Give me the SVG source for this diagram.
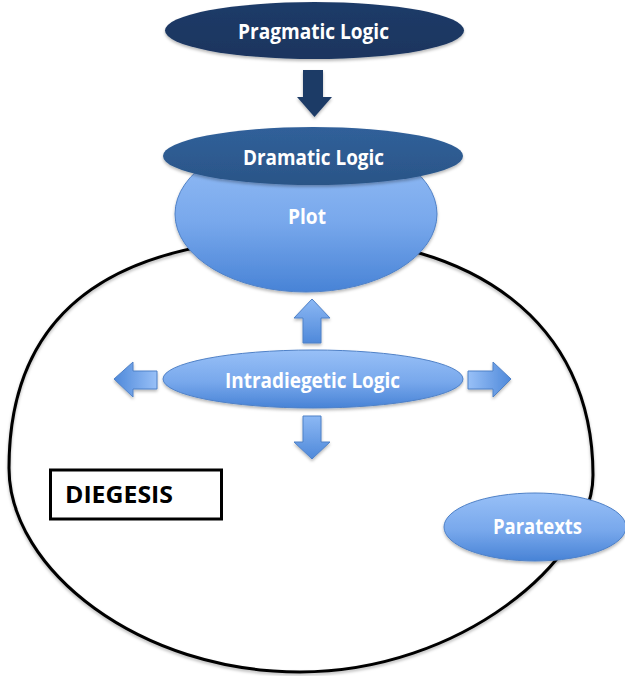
<svg xmlns="http://www.w3.org/2000/svg" width="625" height="676" viewBox="0 0 625 676">
  <defs>
    <linearGradient id="gNavy" x1="0" y1="0" x2="0" y2="1">
      <stop offset="0" stop-color="#1e3b68"/>
      <stop offset="1" stop-color="#1a355f"/>
    </linearGradient>
    <linearGradient id="gSteel" x1="0" y1="0" x2="0" y2="1">
      <stop offset="0" stop-color="#30609a"/>
      <stop offset="1" stop-color="#2b5587"/>
    </linearGradient>
    <linearGradient id="gLight" x1="0" y1="0" x2="0" y2="1">
      <stop offset="0" stop-color="#98c0f7"/>
      <stop offset="0.55" stop-color="#78a8ec"/>
      <stop offset="1" stop-color="#4883d6"/>
    </linearGradient>
    <linearGradient id="gArrowV" x1="0" y1="0" x2="0" y2="1">
      <stop offset="0" stop-color="#8cb8f4"/>
      <stop offset="1" stop-color="#4f89da"/>
    </linearGradient>
    <linearGradient id="gArrowR" x1="0" y1="0" x2="1" y2="0">
      <stop offset="0" stop-color="#98c0f7"/>
      <stop offset="1" stop-color="#4f89da"/>
    </linearGradient>
    <linearGradient id="gArrowL" x1="1" y1="0" x2="0" y2="0">
      <stop offset="0" stop-color="#98c0f7"/>
      <stop offset="1" stop-color="#4f89da"/>
    </linearGradient>
    <filter id="shadow" x="-10%" y="-10%" width="120%" height="130%">
      <feDropShadow dx="0" dy="2" stdDeviation="1.8" flood-color="#000" flood-opacity="0.28"/>
    </filter>
  </defs>
  <style>
    text { font-variant-ligatures: none; }
    .lbl { font-family: "Open Sans", Lato, "Liberation Sans", sans-serif; font-weight: 700; font-size: 21px; fill: #ffffff; text-anchor: middle; }
    .light { fill: url(#gLight); stroke: #4f81c7; stroke-width: 1; filter: url(#shadow); }
    .arrow { stroke: #4f81c7; stroke-width: 1; filter: url(#shadow); }
  </style>

  <rect width="625" height="676" fill="#ffffff"/>

  <!-- diegesis boundary -->
  <g id="diegesis-boundary">
    <path d="M9,468 C9,298 130,238 306,238 C470,238 593,320 593,475 C593,560 460,672 300,672 C140,672 9,570 9,468 Z"
          fill="none" stroke="#000" stroke-width="3" filter="url(#shadow)"/>
  </g>

  <!-- plot (sits under the dramatic logic cap) -->
  <g id="plot">
    <ellipse class="light" cx="306" cy="214" rx="131" ry="78"/>
    <text class="lbl" x="307" y="224" textLength="38" lengthAdjust="spacingAndGlyphs">Plot</text>
  </g>

  <g id="dramatic-logic">
    <ellipse cx="313" cy="156" rx="150" ry="29" fill="url(#gSteel)" filter="url(#shadow)"/>
    <text class="lbl" x="313.5" y="165" textLength="141" lengthAdjust="spacingAndGlyphs">Dramatic Logic</text>
  </g>

  <g id="pragmatic-logic">
    <ellipse cx="314.5" cy="30.5" rx="149.5" ry="28.5" fill="url(#gNavy)" filter="url(#shadow)"/>
    <text class="lbl" x="313.5" y="38.5" textLength="151" lengthAdjust="spacingAndGlyphs">Pragmatic Logic</text>
  </g>

  <!-- connectors: block arrows -->
  <g id="connectors">
    <path d="M303,70 H323 V97 H332 L314.5,117 L297,97 H303 Z" fill="#1d3a66" filter="url(#shadow)"/>
    <path class="arrow" d="M312,299 L330,318 H321 V343 H303 V318 H294 Z" fill="url(#gArrowV)"/>
    <path class="arrow" d="M303,416 H321 V442 H330 L312,459 L294,442 H303 Z" fill="url(#gArrowV)"/>
    <path class="arrow" d="M114,379 L133,362 V371 H157 V389 H133 V397 Z" fill="url(#gArrowL)"/>
    <path class="arrow" d="M468,371 H493 V362 L511,379 L493,397 V389 H468 Z" fill="url(#gArrowR)"/>
  </g>

  <g id="intradiegetic-logic">
    <ellipse class="light" cx="313" cy="379" rx="150" ry="29"/>
    <text class="lbl" x="312.5" y="388" textLength="175" lengthAdjust="spacingAndGlyphs">Intradiegetic Logic</text>
  </g>

  <g id="paratexts">
    <ellipse class="light" cx="535" cy="527" rx="91" ry="34"/>
    <text class="lbl" x="537.5" y="534" textLength="89" lengthAdjust="spacingAndGlyphs">Paratexts</text>
  </g>

  <g id="diegesis-label">
    <rect x="50.5" y="470" width="171" height="49" fill="#ffffff" stroke="#000" stroke-width="3"/>
    <text x="65" y="503" font-family="'Open Sans', Lato, 'Liberation Sans', sans-serif" font-weight="700" font-size="23" fill="#000" textLength="108" lengthAdjust="spacingAndGlyphs">DIEGESIS</text>
  </g>
</svg>
